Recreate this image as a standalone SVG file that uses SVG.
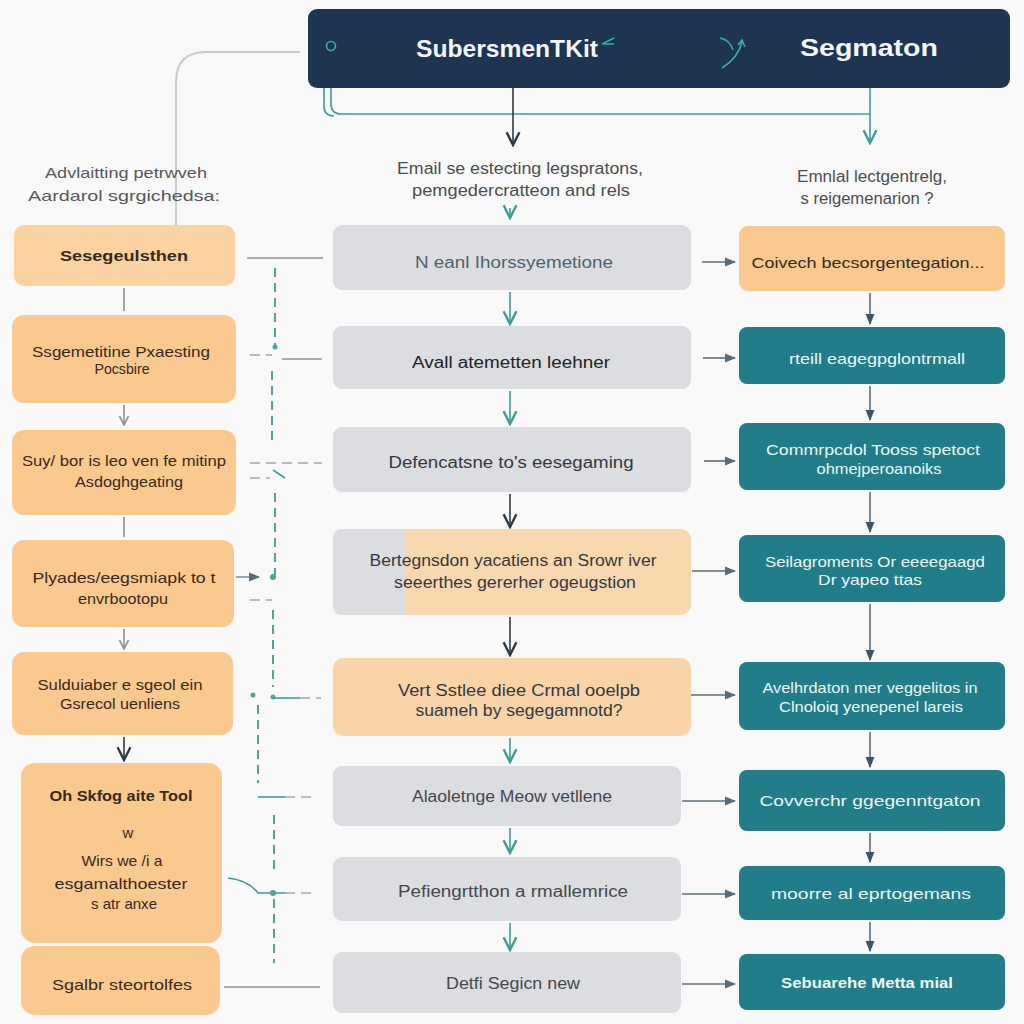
<svg xmlns="http://www.w3.org/2000/svg" width="1024" height="1024" viewBox="0 0 1024 1024">
<defs>
<style>
text{font-family:"Liberation Sans","Open Sans",Arial,sans-serif;text-anchor:middle}
.org{fill:#f9c98f}
.org1{fill:#fbd3a2}
.gry{fill:#dcdde0}
.tel{fill:#217d89}
.tdark{fill:#35291e;font-size:15px}
.tmid{fill:#34383d;font-size:16px}
.twht{fill:#eef6f7;font-size:15px}
.cap{fill:#4a4d52;font-size:16px}
.ln{stroke:#8a9299;stroke-width:1.6;fill:none}
.lns{stroke:#5b6c78;stroke-width:1.6;fill:none}
.dk{stroke:#2c3a45;stroke-width:1.6;fill:none}
.tl{stroke:#3b9c98;stroke-width:1.6;fill:none}
.dash{stroke:#4fa39c;stroke-width:2;fill:none;stroke-dasharray:9 6}
.gdash{stroke:#a0a6ab;stroke-width:1.5;fill:none;stroke-dasharray:10 6}
</style>
<marker id="aS" viewBox="0 0 10 10" refX="9" refY="5" markerWidth="7" markerHeight="7" orient="auto"><path d="M0,1 L10,5 L0,9 z" fill="#5b6c78"/></marker>
<marker id="aD" viewBox="0 0 10 10" refX="9" refY="5" markerWidth="10" markerHeight="10" orient="auto"><path d="M1,1 L9,5 L1,9" fill="none" stroke="#2c3a45" stroke-width="1.5"/></marker>
<marker id="aG" viewBox="0 0 10 10" refX="9" refY="5" markerWidth="7" markerHeight="7" orient="auto"><path d="M1,1 L9,5 L1,9" fill="none" stroke="#8a9299" stroke-width="1.5"/></marker>
<marker id="aT" viewBox="0 0 10 10" refX="9" refY="5" markerWidth="10" markerHeight="10" orient="auto"><path d="M1,1 L9,5 L1,9" fill="none" stroke="#3b9c98" stroke-width="1.5"/></marker>
<marker id="aR" viewBox="0 0 10 10" refX="9" refY="5" markerWidth="7" markerHeight="7" orient="auto"><path d="M0,1 L10,5 L0,9 z" fill="#3c5566"/></marker>
</defs>
<rect width="1024" height="1024" fill="#f9f9f9"/>

<g id="connectors">
<path class="tl" d="M331,50 V104 Q331,114 341,114 H870"/>
<path class="tl" d="M324,88 V106 Q324,116 334,116"/>
<path class="tl" d="M870,88 V143" marker-end="url(#aT)"/>
<path class="dk" d="M513,88 V145" marker-end="url(#aD)"/>
<path d="M176,225 V82 Q176,52 206,52 H300" stroke="#c9cccf" stroke-width="2" fill="none"/>
<path class="tl" d="M510,208 V218" marker-end="url(#aT)"/>
<path class="ln" d="M124,288 V311"/>
<path class="ln" d="M124,405 V425" marker-end="url(#aG)"/>
<path class="ln" d="M124,517 V537"/>
<path class="ln" d="M124,629 V649" marker-end="url(#aG)"/>
<path class="dk" d="M124,737 V760" marker-end="url(#aD)"/>
<path class="tl" d="M510,292 V324" marker-end="url(#aT)"/>
<path class="tl" d="M510,391 V424" marker-end="url(#aT)"/>
<path class="dk" d="M510,494 V527" marker-end="url(#aD)"/>
<path class="dk" d="M510,617 V655" marker-end="url(#aD)"/>
<path class="tl" d="M510,738 V762" marker-end="url(#aT)"/>
<path class="tl" d="M510,828 V853" marker-end="url(#aT)"/>
<path class="tl" d="M510,923 V950" marker-end="url(#aT)"/>
<path class="lns" d="M870,293 V324" marker-end="url(#aR)"/>
<path class="lns" d="M870,386 V420" marker-end="url(#aR)"/>
<path class="lns" d="M870,492 V532" marker-end="url(#aR)"/>
<path class="lns" d="M870,604 V660" marker-end="url(#aR)"/>
<path class="lns" d="M870,732 V767" marker-end="url(#aR)"/>
<path class="lns" d="M870,833 V862" marker-end="url(#aR)"/>
<path class="lns" d="M870,922 V951" marker-end="url(#aR)"/>
<path class="lns" d="M702,262 H735" marker-end="url(#aS)"/>
<path class="lns" d="M703,358 H735" marker-end="url(#aS)"/>
<path class="lns" d="M704,461 H735" marker-end="url(#aS)"/>
<path class="lns" d="M692,571 H735" marker-end="url(#aS)"/>
<path class="lns" d="M690,695 H735" marker-end="url(#aS)"/>
<path class="lns" d="M682,801 H735" marker-end="url(#aS)"/>
<path class="lns" d="M682,894 H735" marker-end="url(#aS)"/>
<path class="lns" d="M682,984 H735" marker-end="url(#aS)"/>
<path class="ln" d="M247,258 H323"/>
<path d="M336,259 Q348,254 362,256 Q350,260 336,259 z" fill="#4a4f55"/>
<path class="dash" d="M275,268 V345"/>
<circle cx="275" cy="347" r="2.5" fill="#4fa39c"/>
<path class="gdash" d="M250,355 H272"/>
<path class="ln" d="M282,359 H322"/>
<path class="dash" d="M272,371 V443"/>
<path class="gdash" d="M250,463 H322"/>
<path class="gdash" d="M250,478 H270"/>
<path class="tl" d="M273,470 L285,478"/>
<path class="dash" d="M275,493 V575"/>
<path class="ln" d="M236,577 H259" marker-end="url(#aS)"/>
<circle cx="273" cy="577" r="3" fill="#4fa39c"/>
<path class="gdash" d="M250,600 H272"/>
<path class="dash" d="M273,610 V687"/>
<circle cx="273" cy="697" r="2.5" fill="#4fa39c"/>
<path class="tl" d="M273,698 H300"/>
<path class="gdash" d="M300,698 H321"/>
<circle cx="253" cy="695" r="2.5" fill="#4fa39c"/>
<path class="dash" d="M258,705 V783"/>
<path class="tl" d="M258,797 H285"/>
<path class="gdash" d="M285,797 H315"/>
<path class="dash" d="M274,815 V870"/>
<path class="tl" d="M228,878 Q248,880 258,893 H285"/>
<path class="gdash" d="M285,893 H313"/>
<circle cx="273" cy="893" r="3" fill="#4fa39c"/>
<path class="dash" d="M274,899 V963"/>
<path class="ln" d="M224,987 H320"/>
</g>

<g id="header">
<rect x="308" y="9" width="702" height="79" rx="9" fill="#1d3453"/>
<circle cx="331" cy="46" r="4.5" fill="none" stroke="#3bb0a8" stroke-width="1.6"/>
<text x="507" y="57" font-size="24" font-weight="bold" fill="#f4f6f8" textLength="182" lengthAdjust="spacingAndGlyphs">SubersmenTKit</text>
<path d="M602,44 L614,38 M603,44 L614,44" stroke="#3bb0a8" stroke-width="1.4" fill="none"/>
<path d="M722,68 Q738,58 742,42 M720,38 Q730,40 733,50 M738,45 L742,40 L745,47" stroke="#3bb0a8" stroke-width="1.6" fill="none"/>
<text x="869" y="56" font-size="24" font-weight="bold" fill="#f4f6f8" textLength="138" lengthAdjust="spacingAndGlyphs">Segmaton</text>
</g>

<g id="captions">
<text x="126" y="178" font-size="15" fill="#55585c" textLength="162" lengthAdjust="spacingAndGlyphs">Advlaitting petrwveh</text>
<text x="124" y="201" font-size="15" fill="#55585c" textLength="192" lengthAdjust="spacingAndGlyphs">Aardarol sgrgichedsa:</text>
<text x="520" y="174" class="cap" textLength="246" lengthAdjust="spacingAndGlyphs">Email se estecting legspratons,</text>
<text x="521" y="196" class="cap" textLength="218" lengthAdjust="spacingAndGlyphs">pemgedercratteon and rels</text>
<text x="872" y="182" class="cap" font-size="15" textLength="150" lengthAdjust="spacingAndGlyphs">Emnlal lectgentrelg,</text>
<text x="867" y="204" class="cap" font-size="15" textLength="133" lengthAdjust="spacingAndGlyphs">s reigemenarion ?</text>
</g>

<g id="L1"><rect x="14" y="225" width="221" height="61" rx="10" class="org1"/><text x="124" y="261" class="tdark" font-size="16" font-weight="bold" textLength="128" lengthAdjust="spacingAndGlyphs">Sesegeulsthen</text></g>
<g id="L2"><rect x="12" y="315" width="224" height="88" rx="12" class="org"/><text x="121" y="357" class="tdark" textLength="178" lengthAdjust="spacingAndGlyphs">Ssgemetitine Pxaesting</text><text x="122" y="374" class="tdark" font-size="13" textLength="55" lengthAdjust="spacingAndGlyphs">Pocsbire</text></g>
<g id="L3"><rect x="12" y="430" width="224" height="85" rx="12" class="org"/><text x="124" y="466" class="tdark" textLength="204" lengthAdjust="spacingAndGlyphs">Suy/ bor is leo ven fe mitinp</text><text x="129" y="487" class="tdark" textLength="108" lengthAdjust="spacingAndGlyphs">Asdoghgeating</text></g>
<g id="L4"><rect x="12" y="540" width="222" height="87" rx="12" class="org"/><text x="124" y="583" class="tdark" textLength="183" lengthAdjust="spacingAndGlyphs">Plyades/eegsmiapk to t</text><text x="123" y="604" class="tdark" textLength="90" lengthAdjust="spacingAndGlyphs">envrbootopu</text></g>
<g id="L5"><rect x="12" y="652" width="221" height="83" rx="12" class="org"/><text x="120" y="690" class="tdark" textLength="165" lengthAdjust="spacingAndGlyphs">Sulduiaber e sgeol ein</text><text x="120" y="709" class="tdark" font-size="14" textLength="120" lengthAdjust="spacingAndGlyphs">Gsrecol uenliens</text></g>
<g id="L6"><rect x="21" y="763" width="201" height="180" rx="14" class="org"/><text x="121" y="801" class="tdark" font-weight="bold" textLength="143" lengthAdjust="spacingAndGlyphs">Oh Skfog aite Tool</text><text x="128" y="838" class="tdark" font-size="8">w</text><text x="122" y="866" class="tdark" textLength="81" lengthAdjust="spacingAndGlyphs">Wirs we /i a</text><text x="121" y="889" class="tdark" textLength="133" lengthAdjust="spacingAndGlyphs">esgamalthoester</text><text x="124" y="909" class="tdark" textLength="66" lengthAdjust="spacingAndGlyphs">s atr anxe</text></g>
<g id="L7"><rect x="21" y="946" width="199" height="69" rx="14" class="org"/><text x="122" y="990" class="tdark" textLength="140" lengthAdjust="spacingAndGlyphs">Sgalbr steortolfes</text></g>

<g id="M1"><rect x="333" y="225" width="358" height="65" rx="9" class="gry"/><text x="514" y="268" class="tmid" style="fill:#4c636c" textLength="198" lengthAdjust="spacingAndGlyphs">N eanl Ihorssyemetione</text></g>
<g id="M2"><rect x="333" y="326" width="358" height="63" rx="9" class="gry"/><text x="511" y="368" class="tmid" style="fill:#222" textLength="198" lengthAdjust="spacingAndGlyphs">Avall atemetten leehner</text></g>
<g id="M3"><rect x="333" y="427" width="358" height="65" rx="9" class="gry"/><text x="511" y="468" class="tmid" textLength="245" lengthAdjust="spacingAndGlyphs">Defencatsne to's eesegaming</text></g>
<g id="M4"><rect x="333" y="529" width="358" height="86" rx="10" fill="#f9d8b0"/><path d="M343,529 H405 V615 H343 Q333,615 333,605 V539 Q333,529 343,529 z" fill="#dcdde0"/><text x="513" y="566" class="tmid" textLength="287" lengthAdjust="spacingAndGlyphs">Bertegnsdon yacatiens an Srowr iver</text><text x="515" y="588" class="tmid" textLength="242" lengthAdjust="spacingAndGlyphs">seeerthes gererher ogeugstion</text></g>
<g id="M5"><rect x="333" y="658" width="358" height="78" rx="10" fill="#f9d4a8"/><text x="519" y="696" class="tmid" textLength="242" lengthAdjust="spacingAndGlyphs">Vert Sstlee diee Crmal ooelpb</text><text x="519" y="716" class="tmid" textLength="207" lengthAdjust="spacingAndGlyphs">suameh by segegamnotd?</text></g>
<g id="M6"><rect x="333" y="766" width="348" height="60" rx="9" class="gry"/><text x="512" y="802" class="tmid" style="fill:#44484d" textLength="200" lengthAdjust="spacingAndGlyphs">Alaoletnge Meow vetllene</text></g>
<g id="M7"><rect x="333" y="857" width="348" height="64" rx="9" class="gry"/><text x="513" y="897" class="tmid" style="fill:#44484d" textLength="230" lengthAdjust="spacingAndGlyphs">Pefiengrtthon a rmallemrice</text></g>
<g id="M8"><rect x="333" y="952" width="348" height="61" rx="9" class="gry"/><text x="513" y="989" class="tmid" style="fill:#44484d" textLength="134" lengthAdjust="spacingAndGlyphs">Detfi Segicn new</text></g>

<g id="R1"><rect x="739" y="226" width="266" height="65" rx="9" fill="#f9c98f"/><text x="868" y="268" class="tdark" font-size="16" textLength="233" lengthAdjust="spacingAndGlyphs">Coivech becsorgentegation...</text></g>
<g id="R2"><rect x="739" y="327" width="266" height="57" rx="8" class="tel"/><text x="877" y="364" class="twht" textLength="176" lengthAdjust="spacingAndGlyphs">rteill eagegpglontrmall</text></g>
<g id="R3"><rect x="739" y="423" width="266" height="67" rx="8" class="tel"/><text x="873" y="455" class="twht" textLength="214" lengthAdjust="spacingAndGlyphs">Commrpcdol Tooss spetoct</text><text x="879" y="474" class="twht" textLength="125" lengthAdjust="spacingAndGlyphs">ohmejperoanoiks</text></g>
<g id="R4"><rect x="739" y="535" width="266" height="67" rx="8" class="tel"/><text x="875" y="567" class="twht" textLength="220" lengthAdjust="spacingAndGlyphs">Seilagroments Or eeeegaagd</text><text x="870" y="585" class="twht" textLength="104" lengthAdjust="spacingAndGlyphs">Dr yapeo ttas</text></g>
<g id="R5"><rect x="739" y="662" width="266" height="68" rx="8" class="tel"/><text x="870" y="693" class="twht" textLength="215" lengthAdjust="spacingAndGlyphs">Avelhrdaton mer veggelitos in</text><text x="871" y="712" class="twht" textLength="184" lengthAdjust="spacingAndGlyphs">Clnoloiq yenepenel lareis</text></g>
<g id="R6"><rect x="739" y="770" width="266" height="61" rx="8" class="tel"/><text x="870" y="806" class="twht" font-size="17" textLength="221" lengthAdjust="spacingAndGlyphs">Covverchr ggegenntgaton</text></g>
<g id="R7"><rect x="739" y="866" width="266" height="54" rx="8" class="tel"/><text x="871" y="899" class="twht" textLength="200" lengthAdjust="spacingAndGlyphs">moorre al eprtogemans</text></g>
<g id="R8"><rect x="739" y="954" width="266" height="56" rx="8" class="tel"/><text x="867" y="988" class="twht" font-weight="bold" textLength="172" lengthAdjust="spacingAndGlyphs">Sebuarehe Metta mial</text></g>
</svg>
